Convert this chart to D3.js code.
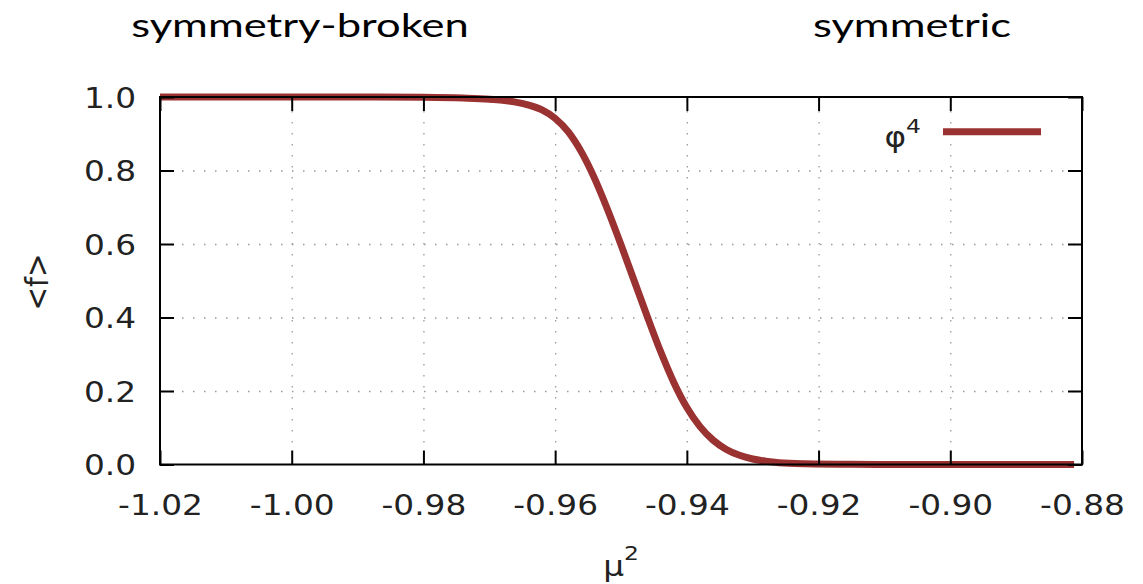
<!DOCTYPE html>
<html>
<head>
<meta charset="utf-8">
<script src="https://cdn.jsdelivr.net/npm/d3@7"></script>
<style>
  html, body { margin: 0; padding: 0; background: #fff; }
  svg { display: block; }
</style>
</head>
<body>
<svg id="chart" width="1143" height="584"></svg>
<script>
// Order parameter <f> versus mu^2 for the phi^4 model
const muSquared = [-1.02, -0.99, -0.980, -0.974, -0.970, -0.968, -0.966, -0.964, -0.962,
  -0.960, -0.958, -0.956, -0.954, -0.952, -0.950, -0.948, -0.946, -0.944, -0.942,
  -0.940, -0.938, -0.936, -0.934, -0.932, -0.930, -0.928, -0.926, -0.922, -0.915,
  -0.905, -0.8812];
const fMean = [1.0, 1.0, 0.999, 0.997, 0.994, 0.991, 0.986, 0.978, 0.965,
  0.942, 0.905, 0.850, 0.778, 0.692, 0.598, 0.500, 0.402, 0.308, 0.224,
  0.155, 0.103, 0.066, 0.041, 0.025, 0.015, 0.009, 0.005, 0.002, 0.0005,
  0.0, 0.0];

const xTicks = [-1.02, -1.00, -0.98, -0.96, -0.94, -0.92, -0.90, -0.88];
const yTicks = [0.0, 0.2, 0.4, 0.6, 0.8, 1.0];
const phaseLabels = ["symmetry-broken", "symmetric"];
const seriesName = "φ";

const svg = d3.select("#chart");
const plotL = 160, plotR = 1082, plotT = 97, plotB = 464.5;
const lineColor = "#9b3232";
const tickFont = "'DejaVu Sans', sans-serif";
const stretch = 1.17;

const x = d3.scaleLinear().domain([-1.02, -0.88]).range([plotL, plotR]);
const y = d3.scaleLinear().domain([0, 1]).range([plotB, plotT]);

// dotted grid
const gridX = svg.append("g").attr("transform", `translate(0,${plotB})`)
  .call(d3.axisBottom(x).tickValues(xTicks.slice(1, -1)).tickSize(-(plotB - plotT)).tickFormat(""));
const gridY = svg.append("g").attr("transform", `translate(${plotL},0)`)
  .call(d3.axisLeft(y).tickValues(yTicks.slice(1, -1)).tickSize(-(plotR - plotL)).tickFormat(""));
[gridX, gridY].forEach(g => {
  g.select(".domain").remove();
  g.selectAll("line").attr("stroke", "#9a9a9a").attr("stroke-width", 1.3)
    .attr("stroke-dasharray", "1.5,9.5");
});

// data curve
const line = d3.line().x((d, i) => x(muSquared[i])).y(d => y(d)).curve(d3.curveMonotoneX);
svg.append("path").datum(fMean).attr("d", line)
  .attr("fill", "none").attr("stroke", lineColor).attr("stroke-width", 7)
  .attr("stroke-linejoin", "round");

// axes with inward ticks on all sides
const tl = 14;
const axB = svg.append("g").attr("transform", `translate(0,${plotB})`)
  .call(d3.axisBottom(x).tickValues(xTicks).tickSizeInner(-tl).tickSizeOuter(0)
    .tickFormat(d3.format(".2f")));
const axT = svg.append("g").attr("transform", `translate(0,${plotT})`)
  .call(d3.axisTop(x).tickValues(xTicks).tickSizeInner(-tl).tickSizeOuter(0).tickFormat(""));
const axL = svg.append("g").attr("transform", `translate(${plotL},0)`)
  .call(d3.axisLeft(y).tickValues(yTicks).tickSizeInner(-tl).tickSizeOuter(0)
    .tickFormat(d3.format(".1f")));
const axR = svg.append("g").attr("transform", `translate(${plotR},0)`)
  .call(d3.axisRight(y).tickValues(yTicks).tickSizeInner(-tl).tickSizeOuter(0).tickFormat(""));
[axB, axT, axL, axR].forEach(g => {
  g.select(".domain").remove();
  g.selectAll("line").attr("stroke", "#000").attr("stroke-width", 2);
});
axB.selectAll("text").attr("font-family", tickFont).attr("font-size", 28).attr("fill", "#222")
  .attr("y", 51).attr("dy", null).attr("transform", `scale(${stretch},1)`)
  .text(d => d3.format(".2f")(d).replace("−", "-"));
axL.selectAll("text").attr("font-family", tickFont).attr("font-size", 28).attr("fill", "#222")
  .attr("x", -24 / stretch).attr("dy", "0.36em").attr("transform", `scale(${stretch},1)`);

// frame
svg.append("rect").attr("x", plotL).attr("y", plotT).attr("width", plotR - plotL)
  .attr("height", plotB - plotT).attr("fill", "none").attr("stroke", "#000").attr("stroke-width", 2);

// axis titles
svg.append("text").attr("transform", `translate(48,282) rotate(-90) scale(1,${stretch})`)
  .attr("text-anchor", "middle").attr("font-family", tickFont).attr("font-size", 28)
  .attr("fill", "#222").text("<f>");
const xl = svg.append("text").attr("transform", `translate(621,576) scale(${stretch},1)`)
  .attr("text-anchor", "middle").attr("font-family", tickFont).attr("font-size", 28).attr("fill", "#222");
xl.append("tspan").text("μ");
xl.append("tspan").attr("font-size", 20).attr("dy", -16).text("2");

// legend
const lg = svg.append("text").attr("transform", `translate(921,147) scale(${stretch},1)`)
  .attr("text-anchor", "end").attr("font-family", tickFont).attr("font-size", 28).attr("fill", "#222");
lg.append("tspan").text(seriesName);
lg.append("tspan").attr("font-size", 20).attr("dy", -14).text("4");
svg.append("line").attr("x1", 943).attr("x2", 1041).attr("y1", 131.7).attr("y2", 131.7)
  .attr("stroke", lineColor).attr("stroke-width", 7);

// phase labels above the plot
svg.selectAll(".phase").data(phaseLabels).join("text").attr("class", "phase")
  .attr("transform", (d, i) => `translate(${[300, 912][i]},37) scale(1.32,1)`)
  .attr("text-anchor", "middle").attr("font-family", "Lato, sans-serif")
  .attr("font-size", 33).attr("fill", "#000").text(d => d);
</script>
</body>
</html>
